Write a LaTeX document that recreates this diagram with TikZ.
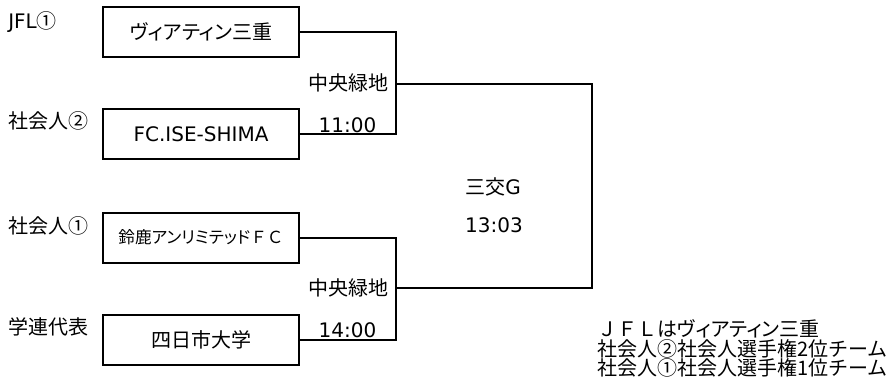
\documentclass[tikz,border=0pt]{standalone}
\usepackage{fontspec}
\setmainfont{Noto Sans CJK JP}
\newfontfamily\jpp{Noto Sans CJK JP}[RawFeature=+palt]
\newfontfamily\lat{DejaVu Sans}
\begin{document}
\begin{tikzpicture}[x=0.75pt,y=-0.75pt,
  team/.style={draw,line width=1.5pt,minimum width=147pt,minimum height=37.5pt,inner sep=0pt,font=\fontsize{15pt}{18pt}\selectfont},
  lbl/.style={inner sep=0pt,font=\fontsize{15pt}{18pt}\selectfont},
  wire/.style={line width=1.5pt}]
\useasboundingbox (0,0) rectangle (888,390);
% team boxes
\node[team] (b1) at (201,32) {{\jpp ヴィアティン}三重};
\node[team] (b2) at (201,134) {\lat FC.ISE-SHIMA};
\node[team,font=\fontsize{12.5pt}{14pt}\selectfont] (b3) at (201,237.5) {{\jpp 鈴鹿アンリミテッド}ＦＣ};
\node[team] (b4) at (201,339.5) {四日市大学};
% seed labels
\node[lbl,anchor=west] (l1) at (8,22) {{\lat JFL}①};
\node[lbl,anchor=west] (l2) at (8,121) {社会人②};
\node[lbl,anchor=west] (l3) at (8,226) {社会人①};
\node[lbl,anchor=west] (l4) at (8,327) {学連代表};
% venue labels
\node[lbl] (v1) at (348,83) {中央緑地};
\node[lbl] (t1) at (347.5,125) {\lat 11:00};
\node[lbl] (v2) at (348,288) {中央緑地};
\node[lbl] (t2) at (347.5,330) {\lat 14:00};
\node[lbl] (v3) at (493,187) {三交{\lat G}};
\node[lbl] (t3) at (494,225) {\lat 13:03};
% notes
\node[lbl,anchor=west] (n1) at (597,329) {ＪＦＬ{\jpp はヴィアティン}三重};
\node[lbl,anchor=west] (n2) at (597,349) {社会人②社会人選手権2位チーム};
\node[lbl,anchor=west] (n3) at (597,368) {社会人①社会人選手権1位チーム};
% bracket
\coordinate (m1) at (396,84);
\coordinate (m2) at (396,288);
\coordinate (f) at (592,186);
\draw[wire] (b1.east) -| (m1);
\draw[wire] (b2.east) -| (m1);
\draw[wire] (b3.east) -| (m2);
\draw[wire] (b4.east) -| (m2);
\draw[wire] (m1) -| (f);
\draw[wire] (m2) -| (f);
\end{tikzpicture}
\end{document}
